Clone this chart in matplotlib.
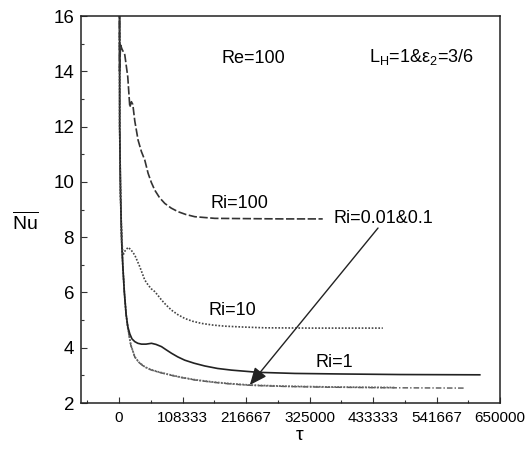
"""
plot.py
-------
Mean Nusselt number vs dimensionless time tau for several Richardson
numbers (Re=100, L_H=1, eps_2=3/6). Values read off the published figure.
"""

import matplotlib
matplotlib.use("Agg")
import matplotlib.pyplot as plt
from matplotlib.ticker import MultipleLocator

plt.rcParams["font.family"] = ["Liberation Sans", "DejaVu Sans"]
plt.rcParams["mathtext.fontset"] = "custom"
plt.rcParams["mathtext.rm"] = "Liberation Sans"
plt.rcParams["mathtext.it"] = "Liberation Sans:italic"


# ── Data ──────────────────────────────────────────────────────────────────────
tau_ri100 = [0, 800, 2500, 5000, 9700, 14800, 18300, 21000, 23400, 26800,
             32400, 38000, 43800, 49500, 55000, 60900, 69000, 78000, 89000,
             100700, 114000, 129100, 163300, 220000, 280000, 347500]
nu_ri100 = [20.0, 14.0, 14.95, 14.8, 14.6, 13.8, 12.7, 12.9, 12.8, 12.2,
            11.51, 11.1, 10.79, 10.31, 9.98, 9.70, 9.43, 9.22, 9.05,
            8.92, 8.82, 8.74, 8.68, 8.67, 8.66, 8.66]

tau_ri10 = [0, 1000, 2500, 4500, 6800, 10000, 15400, 20000, 26800, 35300,
            43800, 49500, 55000, 60900, 66000, 72300, 80000, 89400, 100000,
            112000, 125000, 140600, 160000, 180300, 210000, 248600, 330000,
            450000]
nu_ri10 = [40.0, 12.0, 9.5, 7.9, 7.35, 7.5, 7.63, 7.55, 7.35, 6.93,
           6.45, 6.27, 6.13, 6.03, 5.9, 5.73, 5.55, 5.36, 5.2,
           5.06, 4.96, 4.88, 4.82, 4.78, 4.75, 4.72, 4.71, 4.71]

tau_ri1 = [0, 1000, 2500, 4500, 6500, 9000, 12000, 15000, 18300, 22000,
           26800, 32000, 38200, 46000, 55300, 63000, 72300, 80000, 89400,
           100000, 112000, 128000, 146200, 168000, 191700, 237100, 300000,
           380000, 480000, 615500]
nu_ri1 = [40.0, 12.0, 9.5, 7.8, 6.9, 6.0, 5.2, 4.75, 4.5, 4.32,
          4.22, 4.16, 4.13, 4.13, 4.16, 4.12, 4.04, 3.93, 3.80,
          3.67, 3.55, 3.44, 3.34, 3.25, 3.19, 3.11, 3.07,
          3.05, 3.03, 3.02]

tau_ri001 = [0, 1000, 2500, 4500, 6500, 9000, 12000, 15000, 20000, 26800,
             34000, 43800, 54000, 66500, 85000, 106400, 130000, 160000,
             190000, 223000, 280000, 359500, 470500]
nu_ri001 = [40.0, 12.0, 9.5, 7.8, 6.9, 6.0, 5.2, 4.7, 4.1, 3.67,
            3.47, 3.31, 3.21, 3.13, 3.03, 2.93, 2.84, 2.76,
            2.70, 2.65, 2.61, 2.58, 2.56]

tau_ri01 = [0, 1000, 2500, 4500, 6500, 9000, 12000, 15000, 20000, 26800,
            34000, 43800, 54000, 66500, 85000, 106400, 130000, 160000,
            190000, 223000, 280000, 359500, 470500, 589900]
nu_ri01 = [40.0, 12.0, 9.5, 7.8, 6.9, 6.0, 5.2, 4.7, 4.09, 3.66,
           3.46, 3.3, 3.2, 3.12, 3.02, 2.92, 2.83, 2.75,
           2.69, 2.64, 2.60, 2.57, 2.55, 2.54]

x_ticks = [0, 108333, 216667, 325000, 433333, 541667, 650000]
x_tick_labels = ["0", "108333", "216667", "325000", "433333", "541667", "650000"]
y_ticks = [2, 4, 6, 8, 10, 12, 14, 16]


# ── Figure ────────────────────────────────────────────────────────────────────
fig = plt.figure(figsize=(5.27, 4.51), dpi=100)
ax = fig.add_axes([0.1537, 0.1064, 0.7951, 0.8581])

ax.plot(tau_ri01, nu_ri01, color="#555555", lw=1.0, dashes=(4, 1.5, 1, 1.5))
ax.plot(tau_ri001, nu_ri001, color="#666666", lw=1.3, dashes=(1, 0.7))
ax.plot(tau_ri1, nu_ri1, color="#222222", lw=1.2)
ax.plot(tau_ri10, nu_ri10, color="#444444", lw=1.2, dashes=(1, 1))
ax.plot(tau_ri100, nu_ri100, color="#333333", lw=1.2, dashes=(5, 1.5))

ax.set_xlim(-65000, 650000)
ax.set_ylim(2, 16)
ax.set_xticks(x_ticks)
ax.set_xticklabels(x_tick_labels)
ax.set_yticks(y_ticks)
ax.xaxis.set_minor_locator(MultipleLocator(650000 / 12))
ax.yaxis.set_minor_locator(MultipleLocator(1))

ax.tick_params(which="both", direction="in", width=0.8, color="#333333")
ax.tick_params(which="major", length=4)
ax.tick_params(which="minor", length=2.5)
ax.tick_params(axis="x", labelsize=11, pad=6)
ax.tick_params(axis="y", labelsize=13.5, pad=5)
for sp in ax.spines.values():
    sp.set_linewidth(1.1)
    sp.set_color("#222222")

# ── Annotations ───────────────────────────────────────────────────────────────
txt = dict(fontsize=13, ha="center", va="center")
ax.text(229500, 14.48, "Re=100", **txt)
ax.text(515800, 14.5, r"L$_\mathrm{H}$=1&ε$_\mathrm{2}$=3/6", **txt)
ax.text(206000, 9.2, "Ri=100", **txt)
ax.text(450300, 8.69, "Ri=0.01&0.1", **txt)
ax.text(193600, 5.36, "Ri=10", **txt)
ax.text(368000, 3.48, "Ri=1", **txt)

ax.annotate("", xy=(223000, 2.65), xytext=(441800, 8.33),
            arrowprops=dict(arrowstyle="-|>,head_length=0.7,head_width=0.3",
                            color="#222222", lw=1.0, mutation_scale=15,
                            shrinkA=0, shrinkB=0))

fig.text(25 / 527, 1 - 222 / 451, r"$\overline{\mathrm{Nu}}$",
         fontsize=14, ha="center", va="center")
fig.text(300 / 527, 1 - 436 / 451, "τ", fontsize=14, ha="center", va="center")

fig.savefig("out.png", dpi=100)
